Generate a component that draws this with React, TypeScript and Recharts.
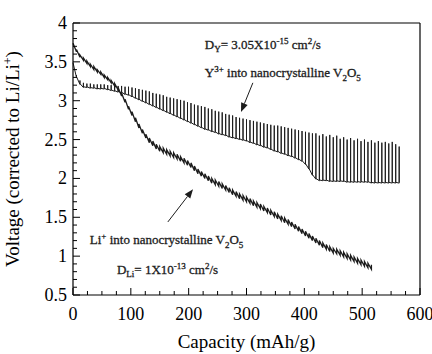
import React from 'react';
import { LineChart, Line, XAxis, YAxis, ReferenceLine, ReferenceDot } from 'recharts';

// capacity (mAh/g) at the end of each titration step
const stepCapacity = [
  0, 6, 12, 18, 24, 30, 36, 42, 48, 54,
  60, 66, 72, 78, 84, 90, 96, 102, 108, 114,
  120, 126, 132, 138, 144, 150, 156, 162, 168, 174,
  180, 186, 192, 198, 204, 210, 216, 222, 228, 234,
  240, 246, 252, 258, 264, 270, 276, 282, 288, 294,
  300, 306, 312, 318, 324, 330, 336, 342, 348, 354,
  360, 366, 372, 378, 384, 390, 396, 402, 408, 414,
  420, 426, 432, 438, 444, 450, 456, 462, 468, 474,
  480, 486, 492, 498, 504, 510, 516, 522, 528, 534,
  540, 546, 552, 558, 564,
];

// Y3+ insertion: end of pulse, after relaxation, right after the next IR drop
const yBottom = [
  3.49, 3.30, 3.21, 3.17, 3.17, 3.16, 3.16, 3.15, 3.15, 3.15,
  3.14, 3.13, 3.12, 3.11, 3.10, 3.08, 3.07, 3.05, 3.03, 3.01,
  2.99, 2.97, 2.95, 2.93, 2.91, 2.89, 2.87, 2.85, 2.83, 2.81,
  2.79, 2.77, 2.75, 2.73, 2.71, 2.69, 2.67, 2.65, 2.63, 2.62,
  2.60, 2.59, 2.57, 2.56, 2.55, 2.53, 2.52, 2.51, 2.50, 2.49,
  2.48, 2.46, 2.45, 2.43, 2.42, 2.40, 2.39, 2.37, 2.35, 2.34,
  2.32, 2.31, 2.29, 2.28, 2.26, 2.24, 2.22, 2.18, 2.12, 2.04,
  1.99, 1.97, 1.97, 1.97, 1.96, 1.96, 1.96, 1.96, 1.96, 1.95,
  1.95, 1.95, 1.95, 1.95, 1.95, 1.95, 1.94, 1.94, 1.94, 1.94,
  1.94, 1.94, 1.94, 1.94, 1.94,
];
const yTop = [
  3.49, 3.33, 3.26, 3.23, 3.22, 3.22, 3.21, 3.21, 3.21, 3.21,
  3.20, 3.20, 3.19, 3.19, 3.19, 3.18, 3.18, 3.17, 3.16, 3.15,
  3.14, 3.13, 3.12, 3.10, 3.09, 3.08, 3.07, 3.05, 3.04, 3.03,
  3.02, 3.01, 3.00, 2.98, 2.97, 2.95, 2.94, 2.93, 2.92, 2.90,
  2.89, 2.87, 2.86, 2.85, 2.83, 2.82, 2.81, 2.79, 2.78, 2.77,
  2.76, 2.75, 2.74, 2.73, 2.72, 2.71, 2.70, 2.69, 2.68, 2.68,
  2.67, 2.66, 2.65, 2.64, 2.63, 2.62, 2.61, 2.60, 2.59, 2.58,
  2.58, 2.55, 2.57, 2.54, 2.56, 2.53, 2.55, 2.51, 2.53, 2.50,
  2.52, 2.49, 2.51, 2.48, 2.50, 2.47, 2.49, 2.46, 2.48, 2.46,
  2.47, 2.45, 2.47, 2.44, 2.41,
];
const yDrop = [
  3.49, 3.31, 3.22, 3.18, 3.18, 3.17, 3.17, 3.16, 3.16, 3.16,
  3.15, 3.14, 3.13, 3.12, 3.11, 3.09, 3.08, 3.06, 3.04, 3.02,
  3.00, 2.98, 2.96, 2.94, 2.92, 2.90, 2.88, 2.86, 2.84, 2.82,
  2.80, 2.78, 2.76, 2.74, 2.72, 2.70, 2.68, 2.66, 2.64, 2.63,
  2.61, 2.60, 2.58, 2.57, 2.56, 2.54, 2.53, 2.52, 2.51, 2.50,
  2.49, 2.47, 2.46, 2.44, 2.43, 2.41, 2.40, 2.38, 2.36, 2.35,
  2.33, 2.32, 2.30, 2.29, 2.27, 2.25, 2.23, 2.19, 2.13, 2.05,
  2.00, 1.98, 1.98, 1.98, 1.97, 1.97, 1.97, 1.97, 1.97, 1.96,
  1.96, 1.96, 1.96, 1.96, 1.96, 1.96, 1.95, 1.95, 1.95, 1.95,
  1.95, 1.95, 1.95, 1.95, 1.95,
];

// Li+ insertion: end of pulse, after relaxation
const liBottom = [
  3.74, 3.63, 3.56, 3.52, 3.48, 3.44, 3.40, 3.37, 3.34, 3.30,
  3.27, 3.23, 3.19, 3.14, 3.06, 2.98, 2.89, 2.81, 2.73, 2.65,
  2.58, 2.52, 2.46, 2.42, 2.38, 2.35, 2.33, 2.31, 2.29, 2.27,
  2.25, 2.22, 2.20, 2.17, 2.14, 2.10, 2.06, 2.03, 2.00, 1.97,
  1.94, 1.92, 1.90, 1.87, 1.85, 1.82, 1.79, 1.77, 1.74, 1.72,
  1.70, 1.68, 1.65, 1.63, 1.61, 1.58, 1.56, 1.53, 1.51, 1.48,
  1.46, 1.43, 1.41, 1.38, 1.35, 1.32, 1.29, 1.26, 1.23, 1.20,
  1.17, 1.14, 1.11, 1.09, 1.06, 1.04, 1.03, 1.01, 0.99, 0.97,
  0.95, 0.93, 0.91, 0.89, 0.87, 0.85, 0.83,
];
const liTop = [
  3.74, 3.66, 3.59, 3.55, 3.51, 3.47, 3.44, 3.40, 3.37, 3.33,
  3.30, 3.26, 3.22, 3.17, 3.10, 3.02, 2.93, 2.86, 2.78, 2.70,
  2.63, 2.57, 2.52, 2.48, 2.44, 2.41, 2.39, 2.37, 2.35, 2.33,
  2.31, 2.28, 2.26, 2.23, 2.20, 2.16, 2.12, 2.09, 2.06, 2.03,
  2.00, 1.98, 1.96, 1.93, 1.91, 1.88, 1.85, 1.83, 1.80, 1.78,
  1.76, 1.74, 1.71, 1.69, 1.67, 1.64, 1.62, 1.59, 1.57, 1.54,
  1.52, 1.49, 1.47, 1.44, 1.41, 1.38, 1.35, 1.32, 1.29, 1.26,
  1.23, 1.20, 1.17, 1.15, 1.12, 1.10, 1.09, 1.07, 1.05, 1.03,
  1.01, 0.99, 0.97, 0.95, 0.93, 0.91, 0.89,
];

const xTicks = [
  0, 25, 50, 75, 100, 125, 150, 175, 200, 225, 250, 275, 300,
  325, 350, 375, 400, 425, 450, 475, 500, 525, 550, 575, 600,
];
const xLabels = [0, 100, 200, 300, 400, 500, 600];
const yTicks = [
  0.5, 0.6, 0.7, 0.8, 0.9, 1, 1.1, 1.2, 1.3, 1.4, 1.5, 1.6, 1.7, 1.8, 1.9,
  2, 2.1, 2.2, 2.3, 2.4, 2.5, 2.6, 2.7, 2.8, 2.9, 3, 3.1, 3.2, 3.3, 3.4,
  3.5, 3.6, 3.7, 3.8, 3.9, 4,
];
const yLabels = [0.5, 1, 1.5, 2, 2.5, 3, 3.5, 4];

const FONT = '"Liberation Serif", "Times New Roman", serif';
const INK = '#1c1c1c';

// Y3+: jump up on relaxation, IR drop back down, slow decline to next step
const yData = yBottom.flatMap((b, i) => [
  { c: stepCapacity[i], v: b },
  { c: stepCapacity[i], v: yTop[i] },
  { c: stepCapacity[i], v: yDrop[i] },
]);

// Li+: plain sawtooth
const liData = liBottom.flatMap((b, i) => [
  { c: stepCapacity[i], v: b },
  { c: stepCapacity[i], v: liTop[i] },
]);

function BottomTick({ x, y, payload }: any) {
  const major = xLabels.includes(payload.value);
  return (
    <g>
      <line x1={x} x2={x} y1={y} y2={y - (major ? 7 : 4)} stroke="#000" />
      {major && (
        <text x={x} y={y + 25} textAnchor="middle" fontFamily={FONT} fontSize={18} fill="#000">
          {payload.value}
        </text>
      )}
    </g>
  );
}

function TopTick({ x, y, payload }: any) {
  const major = xLabels.includes(payload.value);
  return <line x1={x} x2={x} y1={y} y2={y + (major ? 7 : 4)} stroke="#000" />;
}

function LeftTick({ x, y, payload }: any) {
  const major = yLabels.includes(payload.value);
  return (
    <g>
      <line x1={x} x2={x + (major ? 7 : 4)} y1={y} y2={y} stroke="#000" />
      {major && (
        <text x={x - 6} y={y + 6} textAnchor="end" fontFamily={FONT} fontSize={18} fill="#000">
          {payload.value}
        </text>
      )}
    </g>
  );
}

function RightTick({ x, y, payload }: any) {
  const major = yLabels.includes(payload.value);
  return <line x1={x} x2={x - (major ? 7 : 4)} y1={y} y2={y} stroke="#000" />;
}

function YTitle(props: any) {
  const vb = props.viewBox || { x: 0, y: 23, width: 73, height: 272 };
  const cx = vb.x + 19;
  const cy = vb.y + vb.height / 2;
  return (
    <text x={cx} y={cy} transform={`rotate(-90 ${cx} ${cy})`} textAnchor="middle" fontFamily={FONT} fontSize={19} fill="#000">
      Voltage (corrected to Li/Li<tspan dy={-7} fontSize={12}>+</tspan>
      <tspan dy={7}>)</tspan>
    </text>
  );
}

function XTitle(props: any) {
  const vb = props.viewBox || { x: 73, y: 295, width: 347, height: 59 };
  return (
    <text x={vb.x + vb.width / 2} y={vb.y + 53} textAnchor="middle" fontFamily={FONT} fontSize={19} fill="#000">
      Capacity (mAh/g)
    </text>
  );
}

function Arrow({ x1, y1, x2, y2 }: any) {
  const a = Math.atan2(y2 - y1, x2 - x1);
  const bx = x2 - 9 * Math.cos(a);
  const by = y2 - 9 * Math.sin(a);
  const s = Math.sin(a) * 3.5;
  const k = Math.cos(a) * 3.5;
  return (
    <g>
      <line x1={x1} y1={y1} x2={bx} y2={by} stroke={INK} strokeWidth={1} />
      <polygon points={`${x2},${y2} ${bx + s},${by - k} ${bx - s},${by + k}`} fill={INK} />
    </g>
  );
}

const note = { fontFamily: FONT, fontSize: 13, fill: INK, stroke: INK, strokeWidth: 0.3 };

const DyNote = ({ cx, cy }: any) => (
  <text x={cx} y={cy} {...note}>
    D<tspan dy={3} fontSize={9}>Y</tspan>
    <tspan dy={-3}>= 3.05X10</tspan>
    <tspan dy={-5} fontSize={9}>-15</tspan>
    <tspan dy={5}> cm</tspan>
    <tspan dy={-5} fontSize={9}>2</tspan>
    <tspan dy={5}>/s</tspan>
  </text>
);

const YNote = ({ cx, cy }: any) => (
  <text x={cx} y={cy} {...note}>
    Y<tspan dy={-5} fontSize={9}>3+</tspan>
    <tspan dy={5}> into nanocrystalline V</tspan>
    <tspan dy={4} fontSize={9}>2</tspan>
    <tspan dy={-4}>O</tspan>
    <tspan dy={4} fontSize={9}>5</tspan>
  </text>
);

const LiNote = ({ cx, cy }: any) => (
  <text x={cx} y={cy} {...note}>
    Li<tspan dy={-5} fontSize={9}>+</tspan>
    <tspan dy={5}> into nanocrystalline V</tspan>
    <tspan dy={4} fontSize={9}>2</tspan>
    <tspan dy={-4}>O</tspan>
    <tspan dy={4} fontSize={9}>5</tspan>
  </text>
);

const DliNote = ({ cx, cy }: any) => (
  <text x={cx} y={cy} {...note}>
    D<tspan dy={3} fontSize={9}>Li</tspan>
    <tspan dy={-3}>= 1X10</tspan>
    <tspan dy={-5} fontSize={9}>-13</tspan>
    <tspan dy={5}> cm</tspan>
    <tspan dy={-5} fontSize={9}>2</tspan>
    <tspan dy={5}>/s</tspan>
  </text>
);

export default function App() {
  const frame = { stroke: '#000', strokeWidth: 1.2 };
  return (
    <div style={{ position: 'absolute', left: 0, top: 0, width: 432, height: 354, background: '#fff' }}>
      <LineChart width={432} height={354} margin={{ top: 0, right: 0, bottom: 0, left: 0 }}>
        <XAxis
          dataKey="c"
          type="number"
          domain={[0, 600]}
          ticks={xTicks}
          interval={0}
          tickSize={0}
          tickMargin={0}
          tickLine={false}
          axisLine={frame}
          tick={<BottomTick />}
          height={59}
          label={{ content: XTitle }}
        />
        <XAxis
          xAxisId="top"
          orientation="top"
          type="number"
          domain={[0, 600]}
          ticks={xTicks}
          interval={0}
          tickSize={0}
          tickMargin={0}
          tickLine={false}
          axisLine={frame}
          tick={<TopTick />}
          height={23}
        />
        <YAxis
          type="number"
          domain={[0.5, 4]}
          ticks={yTicks}
          interval={0}
          tickSize={0}
          tickMargin={0}
          tickLine={false}
          axisLine={frame}
          tick={<LeftTick />}
          width={73}
          label={{ content: YTitle }}
        />
        <YAxis
          yAxisId="right"
          orientation="right"
          type="number"
          domain={[0.5, 4]}
          ticks={yTicks}
          interval={0}
          tickSize={0}
          tickMargin={0}
          tickLine={false}
          axisLine={frame}
          tick={<RightTick />}
          width={12}
        />
        <Line data={yData} dataKey="v" type="linear" stroke={INK} strokeWidth={1} dot={false} isAnimationActive={false} />
        <Line data={liData} dataKey="v" type="linear" stroke={INK} strokeWidth={1.3} dot={false} isAnimationActive={false} />
        <ReferenceDot x={228} y={3.665} r={0} shape={(p: any) => <DyNote {...p} />} />
        <ReferenceDot x={228} y={3.305} r={0} shape={(p: any) => <YNote {...p} />} />
        <ReferenceDot x={29} y={1.156} r={0} shape={(p: any) => <LiNote {...p} />} />
        <ReferenceDot x={76} y={0.77} r={0} shape={(p: any) => <DliNote {...p} />} />
        <ReferenceLine segment={[{ x: 311, y: 3.23 }, { x: 290.5, y: 2.855 }]} shape={(p: any) => <Arrow {...p} />} />
        <ReferenceLine segment={[{ x: 164, y: 1.44 }, { x: 207.5, y: 1.86 }]} shape={(p: any) => <Arrow {...p} />} />
      </LineChart>
    </div>
  );
}
